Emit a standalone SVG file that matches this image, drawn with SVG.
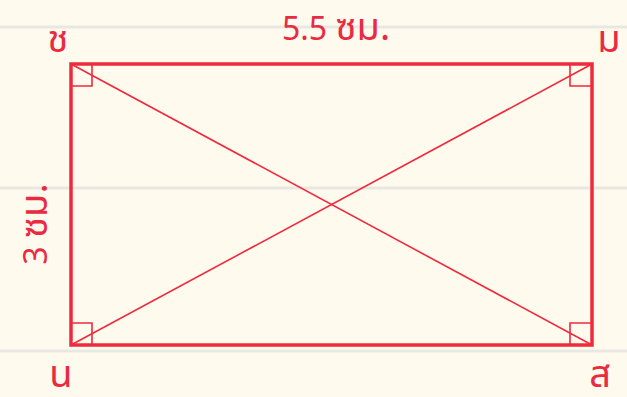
<svg xmlns="http://www.w3.org/2000/svg" width="627" height="397" viewBox="0 0 627 397">
<style>
.grid{stroke:#e9e7e1;stroke-width:3}
.edge{stroke:#ef2a3c;stroke-width:3.5;fill:none}
.thin{stroke:#ef2a3c;stroke-width:1.6;fill:none}
.lbl{font-family:"Noto Sans Thai","Noto Sans","Liberation Sans",sans-serif;fill:#ea2a40;font-size:32px}
.th{font-size:38px}
</style>
<rect width="627" height="397" fill="#fffaee"/>
<g id="grid">
<line class="grid" x1="0" y1="27" x2="627" y2="27"/>
<line class="grid" x1="0" y1="188" x2="627" y2="188"/>
<line class="grid" x1="0" y1="351" x2="627" y2="351"/>
</g>
<g id="connectors">
<line class="thin" x1="71" y1="64" x2="592" y2="345"/>
<line class="thin" x1="71" y1="345" x2="592" y2="64"/>
</g>
<g id="rect">
<rect class="edge" x="71" y="64" width="521" height="281"/>
<path class="thin" d="M71 86 H92 V64 M570 64 V86 H592 M71 323 H92 V345 M570 345 V323 H592"/>
</g>
<g id="label-top"><text class="lbl" x="336" y="40" text-anchor="middle">5.5 <tspan font-size="38">ซม.</tspan></text></g>
<g id="label-left"><text class="lbl" x="0" y="0" text-anchor="middle" transform="translate(47 224) rotate(-90)">3 <tspan font-size="38">ซม.</tspan></text></g>
<g id="v-ch"><text class="lbl th" x="58" y="52" text-anchor="middle">ช</text></g>
<g id="v-m"><text class="lbl th" x="609" y="52" text-anchor="middle">ม</text></g>
<g id="v-n"><text class="lbl th" x="61" y="387" text-anchor="middle">น</text></g>
<g id="v-s"><text class="lbl th" x="600" y="387" text-anchor="middle">ส</text></g>
</svg>
